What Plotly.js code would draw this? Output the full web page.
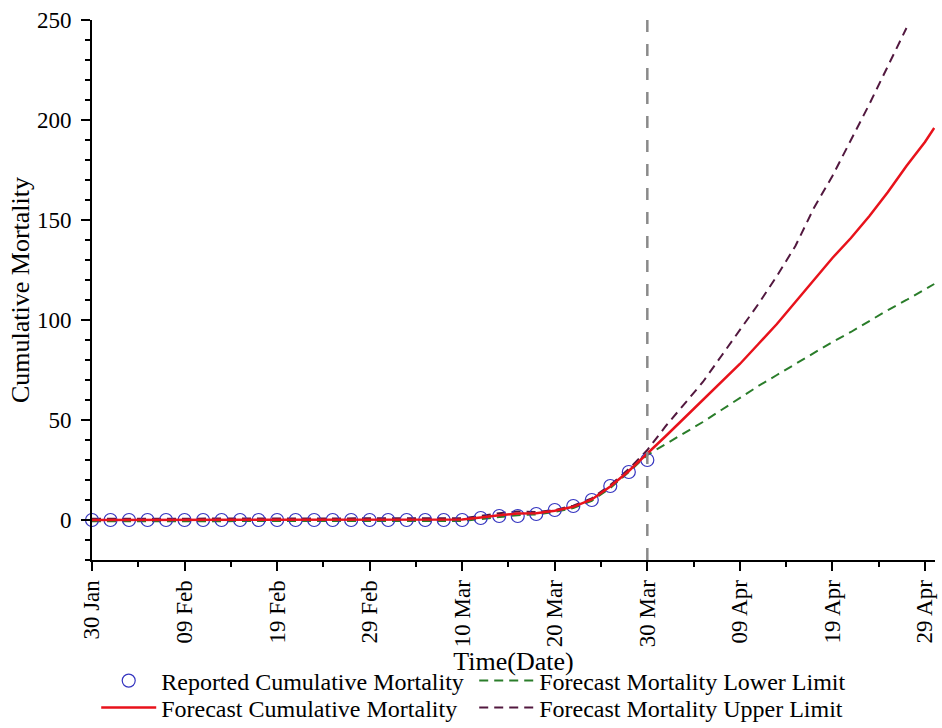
<!DOCTYPE html>
<html>
<head>
<meta charset="utf-8">
<script src="https://cdn.plot.ly/plotly-3.0.1.min.js"></script>
<style>html,body{margin:0;padding:0;background:#fff;}#chart{width:942px;height:728px;}</style>
</head>
<body>
<div id="chart"></div>
<script>
// ---- Data ----
const reportedDates = ['2020-01-30','2020-02-01','2020-02-03','2020-02-05','2020-02-07','2020-02-09','2020-02-11','2020-02-13','2020-02-15','2020-02-17','2020-02-19','2020-02-21','2020-02-23','2020-02-25','2020-02-27','2020-02-29','2020-03-02','2020-03-04','2020-03-06','2020-03-08','2020-03-10','2020-03-12','2020-03-14','2020-03-16','2020-03-18','2020-03-20','2020-03-22','2020-03-24','2020-03-26','2020-03-28','2020-03-30'];
const reportedDeaths = [0,0,0,0,0,0,0,0,0,0,0,0,0,0,0,0,0,0,0,0,0,1,2,2,3,5,7,10,17,24,30];

const modelDates = ['2020-01-30','2020-02-01','2020-02-03','2020-02-05','2020-02-07','2020-02-09','2020-02-11','2020-02-13','2020-02-15','2020-02-17','2020-02-19','2020-02-21','2020-02-23','2020-02-25','2020-02-27','2020-02-29','2020-03-02','2020-03-04','2020-03-06','2020-03-08','2020-03-10','2020-03-12','2020-03-14','2020-03-16','2020-03-18','2020-03-20','2020-03-22','2020-03-24','2020-03-26','2020-03-28','2020-03-30','2020-04-01','2020-04-03','2020-04-05','2020-04-07','2020-04-09','2020-04-11','2020-04-13','2020-04-15','2020-04-17','2020-04-19','2020-04-21','2020-04-23','2020-04-25','2020-04-27','2020-04-29','2020-04-30'];
const forecastDeaths = [0,0,0,0,0,0,0,0,0,0,0,0,0,0,0,0,0,0,0,0,0.2,1.2,2.4,3.2,3.4,4.6,6.6,10.3,16.8,24.5,33,42,51,60,69,78,88,98,109,120,131,141,152,164,177,189,196];
const lowerDeaths = [-0.6,-0.6,-0.6,-0.6,-0.6,-0.6,-0.6,-0.6,-0.6,-0.6,-0.6,-0.6,-0.6,-0.6,-0.6,-0.6,-0.6,-0.6,-0.6,-0.6,-0.5,0.5,1.6,2.4,2.8,4,6,9.6,16,24,32.5,38,43.5,49,55,61,67,72.5,78,83.5,89,94,99.5,105,110,115.5,118];

const upperDates = ['2020-01-30','2020-02-01','2020-02-03','2020-02-05','2020-02-07','2020-02-09','2020-02-11','2020-02-13','2020-02-15','2020-02-17','2020-02-19','2020-02-21','2020-02-23','2020-02-25','2020-02-27','2020-02-29','2020-03-02','2020-03-04','2020-03-06','2020-03-08','2020-03-10','2020-03-12','2020-03-14','2020-03-16','2020-03-18','2020-03-20','2020-03-22','2020-03-24','2020-03-26','2020-03-28','2020-03-30','2020-04-01','2020-04-03','2020-04-05','2020-04-07','2020-04-09','2020-04-11','2020-04-13','2020-04-15','2020-04-17','2020-04-19','2020-04-21','2020-04-23','2020-04-25','2020-04-27'];
const upperDeaths = [0.6,0.6,0.6,0.6,0.6,0.6,0.6,0.6,0.6,0.6,0.6,0.6,0.6,0.6,0.6,0.6,0.6,0.6,0.6,0.6,0.9,2,3.4,4.3,4,5,7.2,10.8,17.5,25.5,35,47,58,69,82,95,108,122,137,156,172,190,208,227,246];

const forecastStart = '2020-03-30';
const xRange = ['2020-01-30', '2020-04-30 02:00'];
const yRange = [-20, 250];

const seriesNames = {
  reported: 'Reported Cumulative Mortality',
  forecast: 'Forecast Cumulative Mortality',
  lower: 'Forecast Mortality Lower Limit',
  upper: 'Forecast Mortality Upper Limit'
};

// ---- Styling ----
const FONT = 'Liberation Serif, Times New Roman, serif';
const DAY = 86400000;

const traces = [
  {
    x: modelDates, y: lowerDeaths, name: seriesNames.lower, type: 'scatter', mode: 'lines',
    line: {color: '#2a7d2a', width: 2, dash: '9px,6px'},
    legend: 'legend', legendrank: 2
  },
  {
    x: upperDates, y: upperDeaths, name: seriesNames.upper, type: 'scatter', mode: 'lines',
    line: {color: '#52183f', width: 2, dash: '9px,6px'},
    legend: 'legend2', legendrank: 2
  },
  {
    x: reportedDates, y: reportedDeaths, name: seriesNames.reported, type: 'scatter', mode: 'markers',
    marker: {symbol: 'circle-open', size: 13, color: '#3535c0', line: {width: 1.2, color: '#3535c0'}},
    cliponaxis: false,
    legend: 'legend', legendrank: 1
  },
  {
    x: modelDates, y: forecastDeaths, name: seriesNames.forecast, type: 'scatter', mode: 'lines',
    line: {color: '#e8121b', width: 2.5},
    legend: 'legend2', legendrank: 1
  }
];

const legendBase = {
  orientation: 'h', xref: 'paper', yref: 'paper', xanchor: 'left', yanchor: 'middle',
  font: {family: FONT, size: 24, color: '#000'},
  entrywidth: 308, entrywidthmode: 'pixels', itemwidth: 55,
  bgcolor: 'rgba(0,0,0,0)', borderwidth: 0, traceorder: 'normal'
};

const layout = {
  width: 942, height: 728,
  margin: {l: 92, r: 7, t: 20, b: 168, autoexpand: false},
  paper_bgcolor: '#fff', plot_bgcolor: '#fff',
  font: {family: FONT, color: '#000'},
  showlegend: true,
  legend: Object.assign({}, legendBase, {x: 0.005, y: -0.2241}),
  legend2: Object.assign({}, legendBase, {x: 0.005, y: -0.2741}),
  xaxis: {
    type: 'date', range: xRange,
    tick0: '2020-01-30', dtick: 10 * DAY, tickformat: '%d %b',
    tickangle: -90, tickfont: {family: FONT, size: 23, color: '#000'},
    ticks: 'outside', ticklen: 9, tickwidth: 2, tickcolor: '#000',
    minor: {dtick: 5 * DAY, tick0: '2020-01-30', ticks: 'outside', ticklen: 5, tickwidth: 2, tickcolor: '#000', showgrid: false},
    showline: true, linewidth: 2, linecolor: '#000',
    showgrid: false, zeroline: false,
    title: {text: 'Time(Date)', font: {family: FONT, size: 26, color: '#000'}, standoff: 0}
  },
  yaxis: {
    range: yRange, tick0: 0, dtick: 50,
    tickfont: {family: FONT, size: 23, color: '#000'},
    ticks: 'outside', ticklen: 9, tickwidth: 2, tickcolor: '#000', ticklabelstandoff: 5,
    minor: {dtick: 10, ticks: 'outside', ticklen: 5, tickwidth: 2, tickcolor: '#000', showgrid: false},
    showline: true, linewidth: 2, linecolor: '#000',
    showgrid: false, zeroline: false,
    title: {text: 'Cumulative Mortality', font: {family: FONT, size: 26, color: '#000'}, standoff: 0}
  },
  shapes: [{
    type: 'line', xref: 'x', yref: 'paper', x0: forecastStart, x1: forecastStart, y0: 0, y1: 1.0185,
    line: {color: '#8a8a8a', width: 2.5, dash: '12px,12px'}
  }]
};

Plotly.newPlot('chart', traces, layout, {displayModeBar: false, staticPlot: true});
</script>
</body>
</html>
